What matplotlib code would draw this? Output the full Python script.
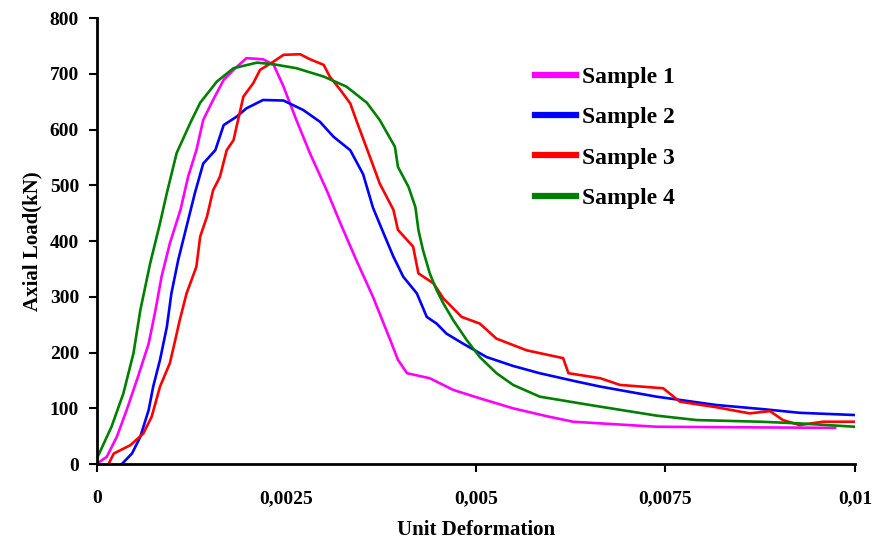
import matplotlib.pyplot as plt

# Sample 1 (magenta)
x1 = [0, 0.000127, 0.00026, 0.00039, 0.00054, 0.00068, 0.00077, 0.00085, 0.00096, 0.0011, 0.0012,
      0.00131, 0.0014, 0.00153, 0.00167, 0.0018, 0.00197, 0.00219, 0.00233, 0.00246, 0.00263, 0.00281,
      0.00303, 0.00321, 0.00342, 0.00364, 0.00387, 0.00397, 0.00409, 0.00439, 0.0047, 0.00505, 0.00549,
      0.00593, 0.00628, 0.00738, 0.0085, 0.00974]
y1 = [1, 13, 49, 97, 157, 216, 276, 336, 396, 456, 515,
      563, 617, 653, 689, 707, 728, 726, 716, 677, 617, 557,
      491, 432, 366, 300, 222, 187, 163, 154, 133, 118, 100,
      86, 76, 67, 66, 65]

# Sample 2 (blue)
x2 = [0.000325, 0.00046, 0.00057, 0.00068, 0.00074, 0.00083, 0.00092, 0.00098, 0.00107, 0.00118,
      0.00129, 0.0014, 0.00156, 0.00167, 0.00184, 0.00197, 0.00219, 0.00246, 0.00272, 0.00294,
      0.00312, 0.00334, 0.00351, 0.00364, 0.00378, 0.00391, 0.00404, 0.00422, 0.00435, 0.00448,
      0.00461, 0.00483, 0.00514, 0.00549, 0.00584, 0.00633, 0.00664, 0.00738, 0.00817, 0.00883,
      0.00927, 0.01]
y2 = [0, 19, 49, 97, 139, 187, 246, 306, 366, 426,
      486, 539, 563, 608, 623, 638, 653, 652, 635, 614,
      587, 563, 520, 460, 414, 372, 336, 306, 264, 252,
      234, 216, 192, 176, 163, 148, 139, 121, 106, 98,
      92, 88]

# Sample 3 (red)
x3 = [0.00015, 0.00022, 0.00044, 0.00061, 0.00072, 0.00083, 0.00096, 0.00103, 0.00109, 0.00118,
      0.00131, 0.00136, 0.00145, 0.00153, 0.00162, 0.00171, 0.0018, 0.00184, 0.00189, 0.00193,
      0.00206, 0.00215, 0.00233, 0.00246, 0.00268, 0.00281, 0.00299, 0.00307, 0.00321, 0.00334,
      0.00343, 0.0036, 0.00373, 0.00391, 0.00397, 0.00417, 0.00424, 0.00444, 0.00457, 0.00481,
      0.00505, 0.00527, 0.00567, 0.00615, 0.00622, 0.00664, 0.0069, 0.00747, 0.00769, 0.00817,
      0.00861, 0.00888, 0.00905, 0.00927, 0.00958, 0.01]
y3 = [0, 19, 34, 55, 85, 139, 181, 222, 258, 306,
      354, 408, 444, 491, 515, 563, 581, 605, 635, 659,
      683, 707, 722, 734, 735, 726, 716, 695, 671, 647,
      613, 551, 503, 456, 420, 390, 342, 324, 297, 264,
      252, 225, 204, 190, 163, 154, 142, 136, 112, 102,
      91, 95, 79, 70, 76, 76]

# Sample 4 (green)
x4 = [0, 0.00019, 0.000347, 0.00048, 0.00057, 0.0007, 0.00083, 0.00092, 0.00105, 0.00123,
      0.00136, 0.00158, 0.0018, 0.00211, 0.00233, 0.00263, 0.00299, 0.00329, 0.00356, 0.00373,
      0.00393, 0.00397, 0.00411, 0.0042, 0.00424, 0.0043, 0.00439, 0.00448, 0.00457, 0.0047,
      0.00488, 0.00505, 0.00527, 0.00549, 0.00584, 0.00637, 0.00664, 0.00738, 0.00791, 0.00875,
      0.00927, 0.01]
y4 = [11, 67, 127, 199, 276, 360, 432, 486, 558, 612,
      648, 686, 710, 720, 717, 710, 695, 677, 648, 617,
      569, 533, 497, 461, 420, 384, 342, 312, 288, 258,
      222, 192, 163, 142, 121, 109, 103, 87, 79, 76,
      73, 67]

xticks = [0, 0.0025, 0.005, 0.0075, 0.01]
xticklabels = ['0', '0,0025', '0,005', '0,0075', '0,01']
yticks = list(range(0, 900, 100))

plt.rcParams['font.family'] = 'Liberation Serif'
plt.rcParams['font.weight'] = 'bold'

fig = plt.figure(figsize=(8.75, 5.46), dpi=100)
ax = fig.add_axes([0.111, 0.150, 0.866, 0.817])

ax.plot(x1, y1, color='#ff00ff', lw=1.9, label='Sample 1')
ax.plot(x2, y2, color='#0000ff', lw=1.9, label='Sample 2')
ax.plot(x3, y3, color='#ff0000', lw=1.9, label='Sample 3')
ax.plot(x4, y4, color='#008000', lw=1.9, label='Sample 4')

ax.set_xlim(0, 0.01)
ax.set_ylim(0, 800)
ax.set_xticks(xticks)
ax.set_xticklabels(xticklabels, fontsize=14, fontweight='bold')
ax.set_yticks(yticks)
ax.set_yticklabels([str(v) for v in yticks], fontsize=14, fontweight='bold')
ax.tick_params(axis='x', length=6, width=1.5, pad=13)
ax.tick_params(axis='y', length=6, width=1.5, pad=7)
# no tick mark at 0,0025 in the original
ax.xaxis.get_major_ticks()[1].tick1line.set_visible(False)

for s in ['top', 'right']:
    ax.spines[s].set_visible(False)
for s in ['left', 'bottom']:
    ax.spines[s].set_linewidth(2)

ax.set_xlabel('Unit Deformation', fontsize=15, fontweight='bold', labelpad=9)
ax.set_ylabel('Axial Load(kN)', fontsize=15, fontweight='bold', labelpad=5)

leg = ax.legend(loc='upper left', bbox_to_anchor=(0.562, 0.918), frameon=False,
                prop={'family': 'Liberation Serif', 'weight': 'bold', 'size': 17},
                handlelength=1.75, labelspacing=0.8, handletextpad=0.25, borderpad=0)
for h in leg.get_lines():
    h.set_linewidth(4.5)

plt.savefig('out.png', dpi=100)
